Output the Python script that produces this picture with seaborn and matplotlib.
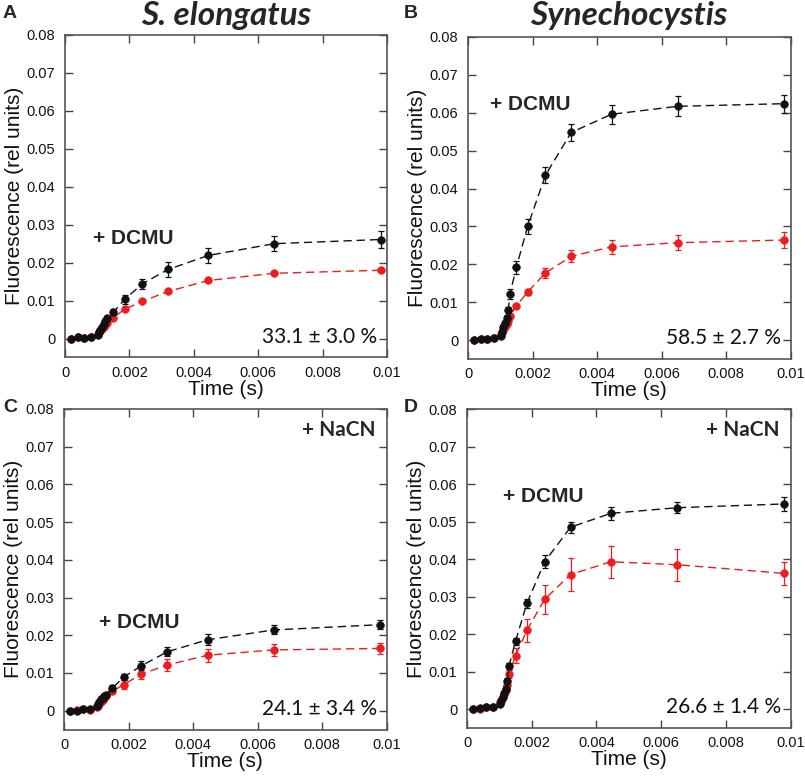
import numpy as np
import pandas as pd
import matplotlib
matplotlib.use("Agg")
import matplotlib.pyplot as plt
import seaborn as sns

# ---- data ----
time_s = [0.0002, 0.0004, 0.0006, 0.0008, 0.00102, 0.00106, 0.0011, 0.00115, 0.0012,
          0.00125, 0.0013, 0.0015, 0.00185, 0.0024, 0.0032, 0.00445, 0.0065, 0.0098]

a_black = [0.0000, 0.0003, 0.0002, 0.0004, 0.0010, 0.0016, 0.0022, 0.0030, 0.0037,
           0.0045, 0.0053, 0.0069, 0.0103, 0.0144, 0.0182, 0.0219, 0.0250, 0.0261]
a_black_err = [0.0002, 0.0002, 0.0002, 0.0002, 0.0004, 0.0004, 0.0004, 0.0004, 0.0004,
               0.0004, 0.0006, 0.0008, 0.0012, 0.0014, 0.0019, 0.0020, 0.0020, 0.0022]
a_red = [0.0000, 0.0003, 0.0002, 0.0004, 0.0012, 0.0016, 0.0021, 0.0026, 0.0031,
         0.0036, 0.0041, 0.0055, 0.0077, 0.0098, 0.0124, 0.0153, 0.0172, 0.0180]
a_red_err = [0.0002, 0.0002, 0.0002, 0.0002, 0.0002, 0.0002, 0.0002, 0.0002, 0.0002,
             0.0002, 0.0003, 0.0003, 0.0003, 0.0003, 0.0003, 0.0003, 0.0003, 0.0004]

b_black = [0.0001, 0.0003, 0.0004, 0.0006, 0.0012, 0.0022, 0.0035, 0.0045, 0.0058,
           0.0080, 0.0121, 0.0192, 0.0300, 0.0435, 0.0548, 0.0596, 0.0617, 0.0624]
b_black_err = [0.0003, 0.0003, 0.0003, 0.0003, 0.0004, 0.0005, 0.0006, 0.0006, 0.0007,
               0.0008, 0.0013, 0.0017, 0.0019, 0.0021, 0.0022, 0.0025, 0.0026, 0.0024]
b_red = [0.0000, 0.0003, 0.0002, 0.0005, 0.0015, 0.0020, 0.0026, 0.0034, 0.0042,
         0.0050, 0.0064, 0.0090, 0.0127, 0.0177, 0.0221, 0.0246, 0.0257, 0.0264]
b_red_err = [0.0002, 0.0002, 0.0002, 0.0002, 0.0003, 0.0003, 0.0003, 0.0003, 0.0004,
             0.0004, 0.0005, 0.0006, 0.0008, 0.0012, 0.0016, 0.0019, 0.0020, 0.0020]

c_black = [0.0000, 0.0000, 0.0004, 0.0004, 0.0012, 0.0018, 0.0024, 0.0030, 0.0034,
           0.0038, 0.0042, 0.0060, 0.0089, 0.0119, 0.0156, 0.0188, 0.0214, 0.0228]
c_black_err = [0.0003, 0.0003, 0.0003, 0.0003, 0.0003, 0.0003, 0.0004, 0.0004, 0.0004,
               0.0005, 0.0006, 0.0008, 0.0009, 0.0012, 0.0012, 0.0014, 0.0012, 0.0012]
c_red = [0.0000, 0.0002, 0.0004, 0.0003, 0.0010, 0.0013, 0.0018, 0.0022, 0.0027,
         0.0033, 0.0038, 0.0051, 0.0069, 0.0097, 0.0121, 0.0147, 0.0161, 0.0165]
c_red_err = [0.0002, 0.0002, 0.0002, 0.0002, 0.0003, 0.0003, 0.0003, 0.0003, 0.0004,
             0.0004, 0.0005, 0.0008, 0.0012, 0.0013, 0.0016, 0.0017, 0.0016, 0.0015]

d_black = [0.0000, 0.0002, 0.0005, 0.0006, 0.0015, 0.0022, 0.0032, 0.0042, 0.0055,
           0.0076, 0.0116, 0.0181, 0.0282, 0.0393, 0.0485, 0.0522, 0.0537, 0.0547]
d_black_err = [0.0003, 0.0003, 0.0003, 0.0003, 0.0004, 0.0004, 0.0005, 0.0005, 0.0006,
               0.0007, 0.0008, 0.0010, 0.0011, 0.0017, 0.0015, 0.0017, 0.0015, 0.0018]
d_red = [0.0000, 0.0001, 0.0005, 0.0006, 0.0018, 0.0025, 0.0033, 0.0041, 0.0050,
         0.0065, 0.0094, 0.0142, 0.0210, 0.0293, 0.0359, 0.0393, 0.0385, 0.0362]
d_red_err = [0.0003, 0.0003, 0.0003, 0.0003, 0.0004, 0.0005, 0.0006, 0.0007, 0.0008,
             0.0009, 0.0010, 0.0020, 0.0030, 0.0038, 0.0043, 0.0043, 0.0042, 0.0030]

panel_letters = ["A", "B", "C", "D"]
titles = ["S. elongatus", "Synechocystis"]
percent_labels = ["33.1 ± 3.0 %", "58.5 ± 2.7 %", "24.1 ± 3.4 %", "26.6 ± 1.4 %"]
y_ticks = [0, 0.01, 0.02, 0.03, 0.04, 0.05, 0.06, 0.07, 0.08]
y_tick_labels = ["0", "0.01", "0.02", "0.03", "0.04", "0.05", "0.06", "0.07", "0.08"]
x_ticks = [0, 0.002, 0.004, 0.006, 0.008, 0.01]
x_tick_labels = ["0", "0.002", "0.004", "0.006", "0.008", "0.01"]

sns.set_theme(style="ticks")
plt.rcParams["font.family"] = ["Liberation Sans", "DejaVu Sans"]

BLACK = "#111111"
RED = "#ee1c1c"

fig = plt.figure(figsize=(8.05, 7.76), dpi=100)
W, H = 805, 776


def px_axes(left, top, right, bottom):
    return fig.add_axes([left / W, 1 - bottom / H, (right - left) / W, (bottom - top) / H])


axes = [
    px_axes(65, 35, 387, 357.5),
    px_axes(468, 37, 790.5, 359),
    px_axes(64, 409, 386.5, 729.5),
    px_axes(467, 409, 790.5, 728),
]

series = [
    (a_black, a_black_err, a_red, a_red_err),
    (b_black, b_black_err, b_red, b_red_err),
    (c_black, c_black_err, c_red, c_red_err),
    (d_black, d_black_err, d_red, d_red_err),
]

for i, (ax, (kb, kbe, kr, kre)) in enumerate(zip(axes, series)):
    df = pd.DataFrame({"t": time_s, "black": kb, "black_err": kbe,
                       "red": kr, "red_err": kre})
    for col, ecol, color, z in [("red", "red_err", RED, 3), ("black", "black_err", BLACK, 4)]:
        sns.lineplot(data=df, x="t", y=col, ax=ax, color=color, lw=1.0,
                     linestyle=(0, (6, 3.5)), zorder=z)
        ax.errorbar(df["t"], df[col], yerr=df[ecol], fmt="none", ecolor=color,
                    elinewidth=0.9, capsize=2.2, capthick=0.9, zorder=z)
        sns.scatterplot(data=df, x="t", y=col, ax=ax, color=color, s=30,
                        edgecolor=color, linewidth=0.5, zorder=z + 0.5, legend=False)

    ax.set_xlim(0, 0.01)
    ax.set_ylim(-0.005, 0.08)
    ax.set_xticks(x_ticks)
    ax.set_xticklabels(x_tick_labels)
    ax.set_yticks(y_ticks)
    ax.set_yticklabels(y_tick_labels)
    ax.tick_params(direction="in", length=6, width=1, color="#444444",
                   top=True, right=True, labelsize=10.5, labelcolor="#111111")
    ax.tick_params(axis="y", pad=7)
    ax.tick_params(axis="x", pad=6)
    for sp in ax.spines.values():
        sp.set_visible(True)
        sp.set_color("#555555")
        sp.set_linewidth(1.2)
    ax.set_xlabel("Time (s)", fontsize=15, labelpad=0, color="#111111")
    ax.set_ylabel("Fluorescence (rel units)", fontsize=15, labelpad=2, color="#111111")
    ax.grid(False)

    ax.text(0.0097, 0.0005, percent_labels[i], ha="right", va="center",
            fontsize=15, family=["Lato", "DejaVu Sans"], color="#111111")

# "+ DCMU" labels
axes[0].text(0.00087, 0.0263, "+ DCMU", ha="left", va="center", fontsize=15, fontweight="bold")
axes[1].text(0.00068, 0.0622, "+ DCMU", ha="left", va="center", fontsize=15, fontweight="bold")
axes[2].text(0.0011, 0.0233, "+ DCMU", ha="left", va="center", fontsize=15, fontweight="bold")
axes[3].text(0.0011, 0.0567, "+ DCMU", ha="left", va="center", fontsize=15, fontweight="bold")
# "+ NaCN" labels
for ax in axes[2:]:
    ax.text(0.00966, 0.0744, "+ NaCN", ha="right", va="center", fontsize=15,
            fontweight="bold", family=["Lato", "DejaVu Sans"])

# Titles
fig.text(226 / W, 1 - 15 / H, titles[0], ha="center", va="center", fontsize=24,
         fontweight="bold", fontstyle="italic", family=["Lato", "DejaVu Sans"])
fig.text(629 / W, 1 - 15 / H, titles[1], ha="center", va="center", fontsize=24,
         fontweight="bold", fontstyle="italic", family=["Lato", "DejaVu Sans"])

# Panel letters
letter_pos = [(10, 13), (411, 13), (10, 407), (411, 407)]
for letter, (lx, ly) in zip(panel_letters, letter_pos):
    fig.text(lx / W, 1 - ly / H, letter, ha="center", va="center", fontsize=14,
             fontweight="bold")

fig.savefig("out.png", dpi=100)
